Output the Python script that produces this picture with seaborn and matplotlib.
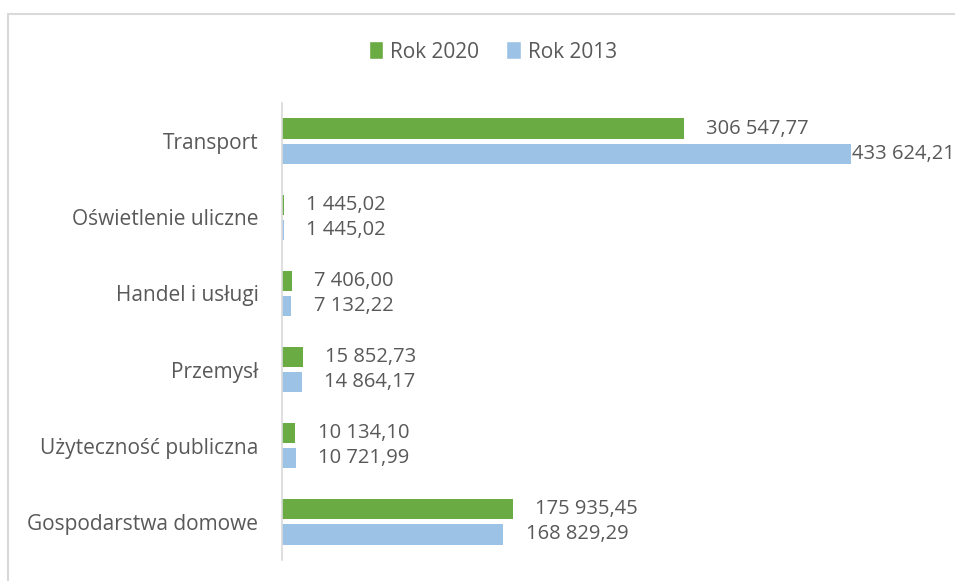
import numpy as np
import pandas as pd
import matplotlib.pyplot as plt
import seaborn as sns
from matplotlib.patches import Rectangle, Patch

# data
sectors = ["Transport", "Oświetlenie uliczne", "Handel i usługi", "Przemysł",
           "Użyteczność publiczna", "Gospodarstwa domowe"]
rok_2020 = [306547.77, 1445.02, 7406.00, 15852.73, 10134.10, 175935.45]
rok_2013 = [433624.21, 1445.02, 7132.22, 14864.17, 10721.99, 168829.29]
series = ["Rok 2020", "Rok 2013"]

df = pd.DataFrame({
    "sektor": sectors * 2,
    "wartosc": rok_2020 + rok_2013,
    "rok": [series[0]] * len(sectors) + [series[1]] * len(sectors),
})

green = "#6aab43"
blue = "#9cc3e6"
grey = "#595959"

sns.set_theme(style="white")
plt.rcParams['font.family'] = ['Open Sans', 'DejaVu Sans']

fig = plt.figure(figsize=(9.55, 5.81), dpi=100)
# chart frame
fig.patches.append(Rectangle((8 / 955, -0.1), 1.2, (581 - 14) / 581 + 0.1,
                             transform=fig.transFigure, fill=False,
                             edgecolor="#d9d9d9", linewidth=1.5))

ax = fig.add_axes([282 / 955, 1 - 560 / 581, (955 - 282) / 955, 457 / 581])
sns.barplot(data=df, x="wartosc", y="sektor", hue="rok", hue_order=series,
            palette=[green, blue], orient="h", width=0.66, ax=ax,
            saturation=1, legend=False)

# slimmer bars with a gap between the two years
for p in ax.patches:
    c = p.get_y() + p.get_height() / 2
    p.set_height(0.265)
    p.set_y(c - 0.1325)
    p.set_edgecolor("none")

ax.set_xlim(0, 513000)
ax.set_ylim(5.5, -0.5)


def fmt(v):
    s = f"{v:,.2f}"
    return s.replace(",", " ").replace(".", ",")


for cont, vals in zip(ax.containers, [rok_2020, rok_2013]):
    for p, v in zip(cont.patches, vals):
        pad = 16
        if v > 400000:
            pad = 1
        ax.annotate(fmt(v), xy=(p.get_width(), p.get_y() + p.get_height() / 2),
                    xytext=(pad, 0), textcoords="offset points",
                    va="center", ha="left", fontsize=14.5, color=grey,
                    annotation_clip=False)

ax.set_xlabel("")
ax.set_ylabel("")
ax.set_xticks([])
for s in ["top", "right", "bottom"]:
    ax.spines[s].set_visible(False)
ax.spines["left"].set_color("#d9d9d9")
ax.spines["left"].set_linewidth(1.2)
ax.tick_params(axis="y", length=0, pad=17, labelsize=15, labelcolor=grey)

handles = [Patch(facecolor=green, label=series[0]),
           Patch(facecolor=blue, label=series[1])]
fig.legend(handles=handles, loc="center", bbox_to_anchor=(493 / 955, 1 - 52 / 581),
           ncol=2, frameon=False, handlelength=0.7, handleheight=0.95,
           handletextpad=0.35, columnspacing=1.3,
           prop={"size": 15}, labelcolor=grey)

fig.savefig("out.png", dpi=100)
